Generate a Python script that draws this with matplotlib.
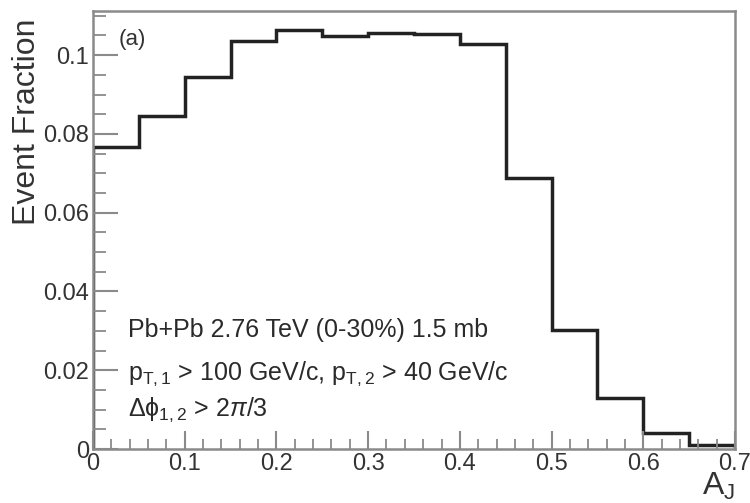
import matplotlib
matplotlib.use("Agg")
import matplotlib.pyplot as plt
from matplotlib.ticker import MultipleLocator, FixedFormatter, FixedLocator

plt.rcParams['font.family'] = ['Liberation Sans', 'DejaVu Sans']
plt.rcParams['mathtext.fontset'] = 'custom'
plt.rcParams['mathtext.rm'] = 'Liberation Sans'
plt.rcParams['mathtext.it'] = 'Liberation Sans:italic'
plt.rcParams['mathtext.bf'] = 'Liberation Sans:bold'

bin_edges = [0.0, 0.05, 0.1, 0.15, 0.2, 0.25, 0.3, 0.35, 0.4, 0.45, 0.5, 0.55, 0.6, 0.65, 0.7]
event_fraction = [0.0767, 0.0845, 0.0944, 0.1036, 0.1063, 0.1048, 0.1056, 0.1053,
                  0.1028, 0.0688, 0.0302, 0.0129, 0.0040, 0.0010]
x_ticks = [0.0, 0.1, 0.2, 0.3, 0.4, 0.5, 0.6, 0.7]
x_tick_labels = ["0", "0.1", "0.2", "0.3", "0.4", "0.5", "0.6", "0.7"]
y_ticks = [0.0, 0.02, 0.04, 0.06, 0.08, 0.1]
y_tick_labels = ["0", "0.02", "0.04", "0.06", "0.08", "0.1"]

fig = plt.figure(figsize=(7.5, 5.03), dpi=100)
ax = fig.add_axes([93/750, 54/503, 642/750, 438/503])

ax.stairs(event_fraction, bin_edges, color='#222222', lw=2.5)

ax.set_xlim(0, 0.7)
ax.set_ylim(0, 0.1112)

spine_c = '#8a8a8a'
for s in ax.spines.values():
    s.set_color(spine_c)
    s.set_linewidth(1.8)

ax.xaxis.set_major_locator(FixedLocator(x_ticks))
ax.xaxis.set_major_formatter(FixedFormatter(x_tick_labels))
ax.xaxis.set_minor_locator(MultipleLocator(0.02))
ax.yaxis.set_major_locator(FixedLocator(y_ticks))
ax.yaxis.set_major_formatter(FixedFormatter(y_tick_labels))
ax.yaxis.set_minor_locator(MultipleLocator(0.005))

ax.tick_params(axis='x', which='major', direction='in', length=13, width=1.5, color=spine_c,
               labelsize=17, labelcolor='#333333', pad=3)
ax.tick_params(axis='x', which='minor', direction='in', length=7, width=1.3, color=spine_c)
ax.tick_params(axis='y', which='major', direction='in', length=18, width=1.5, color=spine_c,
               labelsize=17, labelcolor='#333333', pad=3)
ax.tick_params(axis='y', which='minor', direction='in', length=9, width=1.3, color=spine_c)

ax.set_ylabel('Event Fraction', fontsize=23, color='#333333', labelpad=0)
ax.yaxis.set_label_coords(-0.103, 0.984, transform=ax.transAxes)
ax.yaxis.label.set_verticalalignment('center')
ax.yaxis.label.set_horizontalalignment('right')
ax.text(1.0, -0.05, r'$\mathrm{A}_{\mathrm{J}}$', transform=ax.transAxes, ha='right', va='top',
        fontsize=23, color='#333333')

ax.text(0.04, 0.935, '(a)', transform=ax.transAxes, fontsize=16, color='#333333', va='center')
tc = '#2a2a2a'
ax.text(0.055, 0.272, 'Pb+Pb 2.76 TeV (0-30%) 1.5 mb', transform=ax.transAxes,
        fontsize=18, color=tc, va='center')
ax.text(0.055, 0.172, r'$\mathrm{p}_{\mathrm{T,1}}$ > 100 GeV/c, $\mathrm{p}_{\mathrm{T,2}}$ > 40 GeV/c',
        transform=ax.transAxes, fontsize=18, color=tc, va='center')
ax.text(0.055, 0.09, r'$\Delta\mathrm{\phi}_{\mathrm{1,2}}$ > 2$\pi$/3',
        transform=ax.transAxes, fontsize=18, color=tc, va='center')

fig.savefig('out.png', dpi=100)
